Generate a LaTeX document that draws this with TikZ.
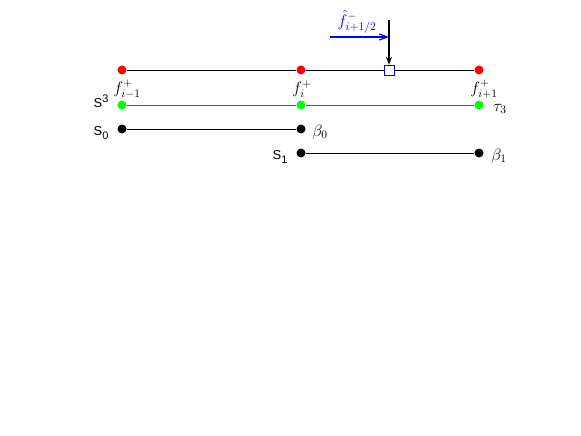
\documentclass[tikz,border=0pt]{standalone}
\usepackage{fontspec}
\newfontfamily\hv{Liberation Sans}
\usetikzlibrary{arrows.meta}
\newcommand{\hsup}[1]{\raisebox{5pt}{\fontsize{11}{13}\selectfont #1}}
\newcommand{\hsub}[1]{\raisebox{-4pt}{\fontsize{11}{13}\selectfont #1}}
\newcommand{\mm}[1]{\scalebox{1.15}{$#1$}}
\begin{document}
\begin{tikzpicture}[x=1pt,y=-1pt,
  dotr/.style={circle,fill=red,inner sep=0pt,minimum size=9pt},
  dotg/.style={circle,fill=green,inner sep=0pt,minimum size=9pt},
  dotk/.style={circle,fill=black,inner sep=0pt,minimum size=9pt},
  lab/.style={inner sep=1pt,font=\fontsize{14}{17}\selectfont},
  sl/.style={inner sep=1pt,font=\hv\fontsize{13}{16}\selectfont}]
\useasboundingbox (0,0) rectangle (581,436);
% red row
\node[dotr] (r0) at (122,70) {};
\node[dotr] (r1) at (301,70) {};
\node[dotr] (r2) at (479,70) {};
\node[draw=blue,inner sep=0pt,minimum size=10pt,fill=white] (sq) at (389,70) {};
\draw (r0) -- (r1) -- (sq) -- (r2);
\node[lab] (lr0) at (127,89) {\mm{f^+_{i-1}}};
\node[lab] (lr1) at (302,89) {\mm{f^+_{i}}};
\node[lab] (lr2) at (484,89) {\mm{f^+_{i+1}}};
% arrows
\coordinate (top) at (389,20);
\draw[-{Stealth[length=8pt,width=6pt]},line width=1.2pt] (top) -- (sq.north);
\coordinate (bs) at (330,37);
\coordinate (be) at (389,37);
\draw[blue,-{Straight Barb[length=8pt,width=6pt]},line width=1.2pt] (bs) -- (be);
\node[lab,text=blue] (fh) at (357,22) {\mm{\hat{f}^-_{i+1/2}}};
% green row
\node[dotg] (g0) at (122,105) {};
\node[dotg] (g1) at (301,105) {};
\node[dotg] (g2) at (479,105) {};
\draw[gray!70!black] (g0) -- (g1) -- (g2);
\node[sl] (s3) at (101,101) {S\hsup{3}};
\node[lab] (t3) at (500,109) {\mm{\tau_3}};
% S0 row
\node[dotk] (k0) at (122,129) {};
\node[dotk] (k1) at (301,129) {};
\draw (k0) -- (k1);
\node[sl] (s0) at (101,133) {S\hsub{0}};
\node[lab] (b0) at (320,132) {\mm{\beta_0}};
% S1 row
\node[dotk] (m0) at (301,153) {};
\node[dotk] (m1) at (479,153) {};
\draw (m0) -- (m1);
\node[sl] (s1) at (280,157) {S\hsub{1}};
\node[lab] (b1) at (499,156) {\mm{\beta_1}};
\end{tikzpicture}
\end{document}
